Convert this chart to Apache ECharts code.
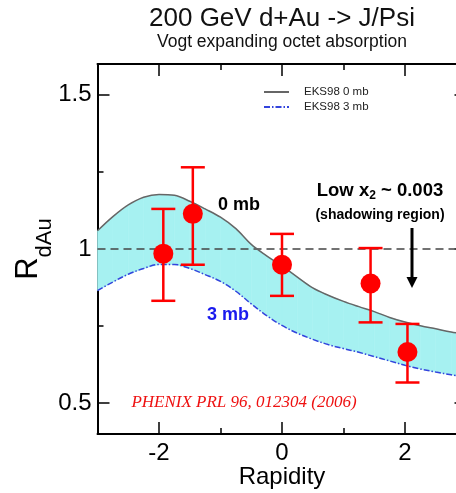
<!DOCTYPE html>
<html><head><meta charset="utf-8">
<script src="https://cdn.jsdelivr.net/npm/echarts@6/dist/echarts.min.js"></script>
<style>html,body{margin:0;padding:0;background:#fff}#c{width:456px;height:493px}</style>
</head><body><div id="c"></div>
<script>
// ---- data ----
const rapidity = [-3, -2.75, -2.5, -2.25, -2, -1.75, -1.5, -1.25, -1, -0.75, -0.5, -0.25, 0, 0.25, 0.5, 0.75, 1, 1.25, 1.5, 1.75, 2, 2.25, 2.5, 2.75, 3];
const eks0mb = [1.059, 1.105, 1.143, 1.168, 1.177, 1.174, 1.155, 1.130, 1.103, 1.066, 1.015, 0.978, 0.945, 0.909, 0.874, 0.850, 0.830, 0.813, 0.797, 0.778, 0.763, 0.751, 0.741, 0.731, 0.722];
const eks3mb = [0.865, 0.893, 0.918, 0.937, 0.950, 0.950, 0.937, 0.917, 0.895, 0.863, 0.822, 0.784, 0.752, 0.727, 0.707, 0.690, 0.677, 0.665, 0.651, 0.637, 0.623, 0.611, 0.601, 0.592, 0.583];
const phenixY = [-1.93, -1.45, 0, 1.44, 2.04];
const phenixR = [0.985, 1.114, 0.949, 0.888, 0.666];
const phenixLow = [0.832, 0.949, 0.848, 0.762, 0.567];
const phenixHigh = [1.13, 1.265, 1.049, 1.003, 0.757];
const xMajorTicks = [-2, 0, 2];
const xMinorTicks = [-1, 1];
const yMajorTicks = [0.5, 1, 1.5];
const yMinorTicks = [0.75, 1.25];
const seriesNames = ['EKS98 0 mb', 'EKS98 3 mb'];

const FONT = 'Liberation Sans';
const chart = echarts.init(document.getElementById('c'), null, {renderer: 'canvas'});

function mkAxis(dim, pos, ticks, len, showLine, showLabel) {
  const isX = dim === 'x';
  return {
    type: 'value', position: pos, gridIndex: 0,
    min: isX ? -3 : 0.4, max: isX ? 3 : 1.6,
    splitLine: {show: false},
    axisLine: {show: showLine, onZero: false, lineStyle: {color: '#000', width: 2}},
    axisTick: {show: true, inside: true, length: len, customValues: ticks, lineStyle: {color: '#000', width: 1.5}},
    axisLabel: {show: showLabel, customValues: ticks, color: '#000', fontSize: 24, fontFamily: FONT, margin: isX ? 7 : 6},
    silent: true
  };
}

const xAxes = [
  Object.assign(mkAxis('x', 'bottom', xMajorTicks, 12, true, true), {
    name: 'Rapidity', nameLocation: 'middle', nameGap: 31, nameMoveOverlap: false,
    nameTextStyle: {color: '#000', fontSize: 24, fontFamily: FONT}
  }),
  mkAxis('x', 'bottom', xMinorTicks, 6, false, false),
  mkAxis('x', 'top', xMajorTicks, 12, true, false),
  mkAxis('x', 'top', xMinorTicks, 6, false, false)
];
const yAxes = [
  Object.assign(mkAxis('y', 'left', yMajorTicks, 12, true, true), {
    name: '{a|R}{b|dAu}', nameLocation: 'middle', nameRotate: 90, nameGap: 42, nameMoveOverlap: false,
    nameTextStyle: {color: '#000', fontFamily: FONT,
      rich: {a: {fontSize: 31, lineHeight: 54, fontFamily: FONT, color: '#000', verticalAlign: 'middle'},
             b: {fontSize: 22, lineHeight: 22, fontFamily: FONT, color: '#000', verticalAlign: 'bottom'}}}
  }),
  mkAxis('y', 'left', yMinorTicks, 6, false, false),
  mkAxis('y', 'right', yMajorTicks, 12, true, false),
  mkAxis('y', 'right', yMinorTicks, 6, false, false)
];

const option = {
  animation: false,
  backgroundColor: '#fff',
  grid: {left: 97.5, right: -10.5, top: 64, bottom: 59, containLabel: false, outerBoundsMode: 'none'},
  xAxis: xAxes,
  yAxis: yAxes,
  legend: {
    data: seriesNames, orient: 'vertical', left: 263, top: 86, padding: 0,
    itemWidth: 25, itemHeight: 10, itemGap: 3,
    itemStyle: {opacity: 0},
    textStyle: {fontSize: 11.5, fontFamily: FONT, color: '#222', padding: [0, 0, 0, 10]},
    selectedMode: false
  },
  series: [
    {type: 'custom', name: 'band', silent: true, z: 1,
     data: rapidity.map((x, i) => [x, eks3mb[i], eks0mb[i]]),
     encode: {x: 0, y: [1, 2]},
     renderItem: function (params, api) {
       const i = params.dataIndex;
       if (i >= rapidity.length - 1) return null;
       const a0 = api.coord([rapidity[i], eks3mb[i]]);
       const a1 = api.coord([rapidity[i + 1], eks3mb[i + 1]]);
       const b1 = api.coord([rapidity[i + 1], eks0mb[i + 1]]);
       const b0 = api.coord([rapidity[i], eks0mb[i]]);
       return {type: 'polygon', shape: {points: [a0, a1, b1, b0]},
         style: {fill: '#a6f1f1', stroke: '#a6f1f1', lineWidth: 0.6}};
     },
     markLine: {silent: true, symbol: 'none', label: {show: false}, z: 2,
       lineStyle: {color: '#444', width: 1.5, type: [8, 5]}, data: [{yAxis: 1}]}},
    {type: 'line', name: seriesNames[0], symbol: 'none', silent: true, smooth: 0.35,
     data: rapidity.map((x, i) => [x, eks0mb[i]]), lineStyle: {color: '#666', width: 1.5}, itemStyle: {color: '#666'}, z: 3},
    {type: 'line', name: seriesNames[1], symbol: 'none', silent: true, smooth: 0.35,
     data: rapidity.map((x, i) => [x, eks3mb[i]]), lineStyle: {color: '#3344dd', width: 1.5, type: [6, 2, 1.5, 2]}, itemStyle: {color: '#3344dd'}, z: 3},
    {type: 'custom', name: 'err', silent: true, z: 5,
     data: phenixY.map((x, i) => [x, phenixLow[i], phenixHigh[i]]),
     encode: {x: 0, y: [1, 2]},
     renderItem: function (params, api) {
       const x = api.value(0);
       const lo = api.coord([x, api.value(1)]);
       const hi = api.coord([x, api.value(2)]);
       const w = 12;
       const st = {stroke: '#ff0000', lineWidth: 2.5};
       return {type: 'group', children: [
         {type: 'line', shape: {x1: lo[0], y1: lo[1], x2: hi[0], y2: hi[1]}, style: st},
         {type: 'line', shape: {x1: lo[0] - w, y1: lo[1], x2: lo[0] + w, y2: lo[1]}, style: st},
         {type: 'line', shape: {x1: hi[0] - w, y1: hi[1], x2: hi[0] + w, y2: hi[1]}, style: st}
       ]};
     }},
    {type: 'scatter', name: 'PHENIX', silent: true, z: 6, symbol: 'circle', symbolSize: 20,
     data: phenixY.map((x, i) => [x, phenixR[i]]), itemStyle: {color: '#ff0000', opacity: 1}}
  ],
  graphic: [
    {type: 'text', x: 282, y: 19, style: {text: '200 GeV d+Au -> J/Psi', align: 'center', verticalAlign: 'middle', fontSize: 26, fontFamily: FONT, fill: '#111'}},
    {type: 'text', x: 282, y: 42, style: {text: 'Vogt expanding octet absorption', align: 'center', verticalAlign: 'middle', fontSize: 17.5, fontFamily: FONT, fill: '#111'}},
    {type: 'text', x: 239, y: 205, z: 10, style: {text: '0 mb', align: 'center', verticalAlign: 'middle', fontSize: 18, fontWeight: 'bold', fontFamily: FONT, fill: '#000'}},
    {type: 'text', x: 228, y: 315, z: 10, style: {text: '3 mb', align: 'center', verticalAlign: 'middle', fontSize: 18, fontWeight: 'bold', fontFamily: FONT, fill: '#1a1aee'}},
    {type: 'text', x: 380, y: 191, z: 10, style: {text: '{a|Low x}{s|2}{a| ~ 0.003}', align: 'center', verticalAlign: 'middle',
      rich: {a: {fontSize: 18.5, fontWeight: 'bold', fontFamily: FONT, fill: '#000', lineHeight: 22, verticalAlign: 'middle'},
             s: {fontSize: 12, fontWeight: 'bold', fontFamily: FONT, fill: '#000', lineHeight: 12, verticalAlign: 'bottom'}}}},
    {type: 'text', x: 380, y: 215, z: 10, style: {text: '(shadowing region)', align: 'center', verticalAlign: 'middle', fontSize: 14, fontWeight: 'bold', fontFamily: FONT, fill: '#000'}},
    {type: 'line', z: 10, shape: {x1: 412, y1: 228, x2: 412, y2: 279}, style: {stroke: '#000', lineWidth: 3}},
    {type: 'polygon', z: 10, shape: {points: [[406.5, 277], [417.5, 277], [412, 288]]}, style: {fill: '#000'}},
    {type: 'text', x: 244, y: 403, z: 10, style: {text: 'PHENIX PRL 96, 012304 (2006)', align: 'center', verticalAlign: 'middle', fontSize: 17, fontStyle: 'italic', fontFamily: 'Liberation Serif', fill: '#ee1111'}}
  ]
};
chart.setOption(option);
</script>
</body></html>
